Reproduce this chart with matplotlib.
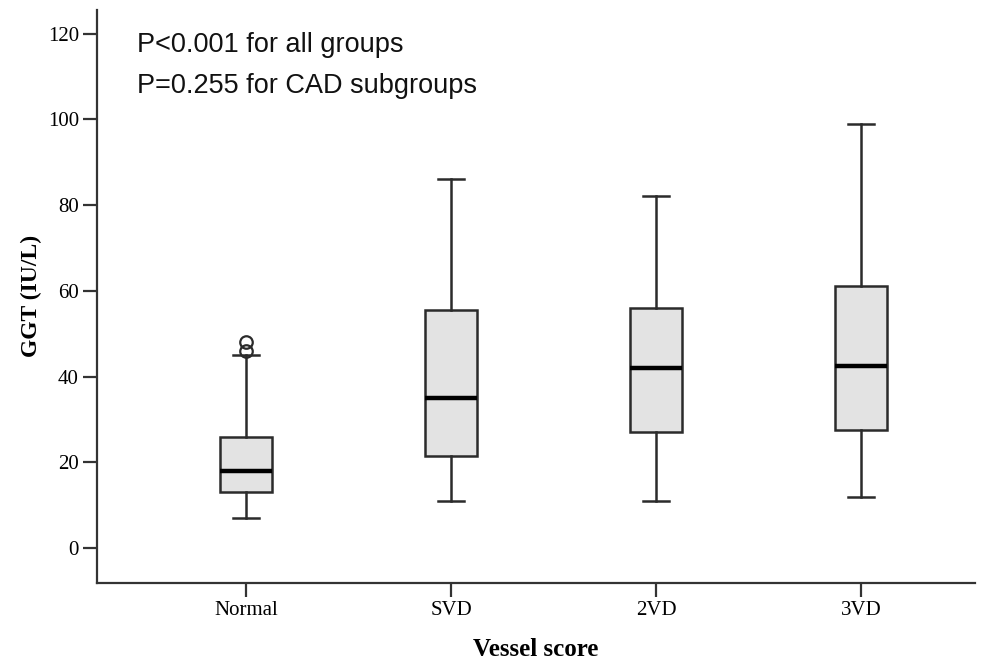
import matplotlib
matplotlib.use('Agg')
import matplotlib.pyplot as plt
import numpy as np

# Data (GGT, IU/L)
groups = ['Normal', 'SVD', '2VD', '3VD']
whislo = [7, 11, 11, 12]
q1 = [13, 21.5, 27, 27.5]
med = [18, 35, 42, 42.5]
q3 = [26, 55.5, 56, 61]
whishi = [45, 86, 82, 99]
outliers = [[46, 48], [], [], []]

yticks = [0, 20, 40, 60, 80, 100, 120]

stats = []
for i, g in enumerate(groups):
    stats.append({'label': g, 'whislo': whislo[i], 'q1': q1[i], 'med': med[i],
                  'q3': q3[i], 'whishi': whishi[i], 'fliers': outliers[i]})

line_col = '#2b2b2b'
serif = ['Liberation Serif', 'DejaVu Serif']

fig = plt.figure(figsize=(9.9, 6.63), dpi=100)
ax = fig.add_axes([0.098, 0.121, 0.887, 0.864])

ax.bxp(stats, positions=[1, 2, 3, 4], widths=0.254, patch_artist=True,
       boxprops=dict(facecolor='#e3e3e3', edgecolor=line_col, linewidth=1.8),
       medianprops=dict(color='black', linewidth=3.2),
       whiskerprops=dict(color=line_col, linewidth=1.8),
       capprops=dict(color=line_col, linewidth=1.8),
       capwidths=0.125,
       flierprops=dict(marker='o', markerfacecolor='none', markeredgecolor=line_col,
                       markersize=9, markeredgewidth=1.6))

ax.set_xlim(0.273, 4.556)
ax.set_ylim(-8.1, 125.5)

ax.spines['top'].set_visible(False)
ax.spines['right'].set_visible(False)
for s in ['left', 'bottom']:
    ax.spines[s].set_linewidth(1.6)
    ax.spines[s].set_color('#333333')

ax.set_yticks(yticks)
ax.set_yticklabels([str(v) for v in yticks], family=serif, fontsize=15)
ax.set_xticks([1, 2, 3, 4])
ax.set_xticklabels(groups, family=serif, fontsize=15)
ax.tick_params(axis='both', length=10, width=1.6, color='#333333', pad=3)

ax.set_ylabel('GGT (IU/L)', family=serif, fontsize=17, fontweight='bold', labelpad=4)
ax.set_xlabel('Vessel score', family=serif, fontsize=18, fontweight='bold', labelpad=13)

ax.text(0.046, 0.938, 'P<0.001 for all groups', transform=ax.transAxes,
        family=['Liberation Sans', 'DejaVu Sans'], fontsize=19.5, va='center', color='#111111')
ax.text(0.046, 0.868, 'P=0.255 for CAD subgroups', transform=ax.transAxes,
        family=['Liberation Sans', 'DejaVu Sans'], fontsize=19.5, va='center', color='#111111')

fig.savefig('out.png', dpi=100)
